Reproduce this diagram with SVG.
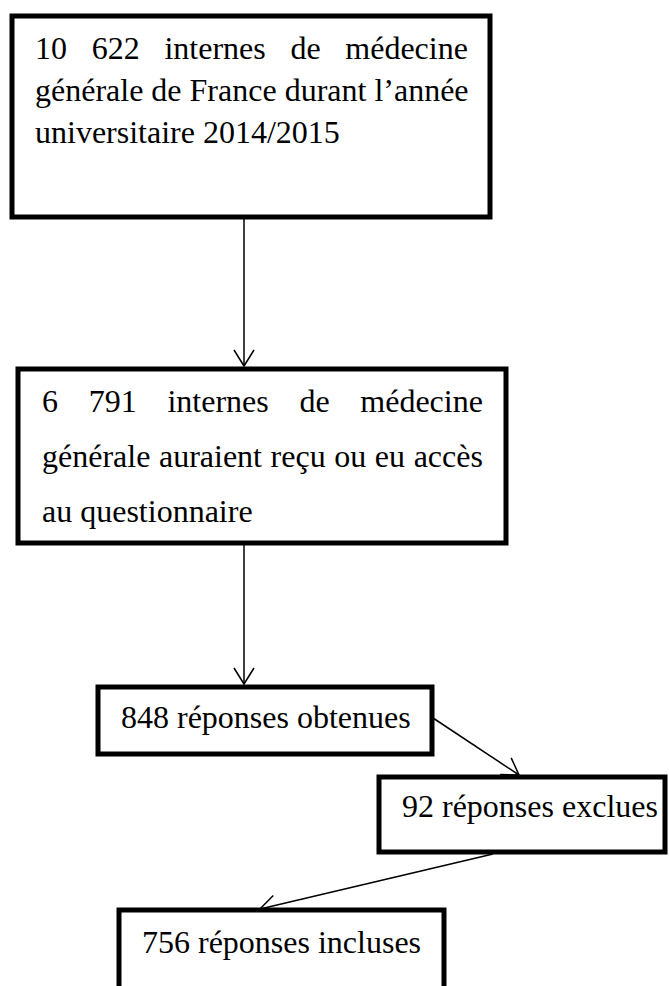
<svg xmlns="http://www.w3.org/2000/svg" width="669" height="986" viewBox="0 0 669 986">
  <style>
    .box { fill: #ffffff; stroke: #000000; stroke-width: 5; }
    .t { font-family: "Liberation Serif", "Times New Roman", serif; font-size: 32px; fill: #000000; }
    .c { fill: none; stroke: #000000; stroke-width: 1.5; }
  </style>
  <defs>
    <marker id="arr" markerUnits="userSpaceOnUse" markerWidth="24" markerHeight="24" viewBox="-18 -12 20 24" refX="0" refY="0" orient="auto">
      <path d="M-16,-10 L0,0 L-16,10" fill="none" stroke="#000000" stroke-width="1.5"/>
    </marker>
  </defs>
  <rect width="669" height="986" fill="#ffffff"/>
  <g id="connectors">
    <line class="c" x1="244" y1="219" x2="244" y2="366" marker-end="url(#arr)"/>
    <line class="c" x1="244" y1="545" x2="244" y2="684" marker-end="url(#arr)"/>
    <line class="c" x1="433" y1="718" x2="519" y2="775" marker-end="url(#arr)"/>
    <line class="c" x1="493" y1="854" x2="260" y2="909" marker-end="url(#arr)"/>
  </g>
  <g id="n1">
    <rect class="box" x="12" y="16" width="478" height="201"/>
    <text class="t" x="35" y="59" word-spacing="16.7">10 622 internes de médecine</text>
    <text class="t" x="35" y="101">générale de France durant l’année</text>
    <text class="t" x="35" y="143">universitaire 2014/2015</text>
  </g>
  <g id="n2">
    <rect class="box" x="18" y="369" width="488" height="174"/>
    <text class="t" x="42" y="412" word-spacing="22.7">6 791 internes de médecine</text>
    <text class="t" x="42" y="467" word-spacing="0.6">générale auraient reçu ou eu accès</text>
    <text class="t" x="42" y="522">au questionnaire</text>
  </g>
  <g id="n3">
    <rect class="box" x="98" y="687" width="334" height="67"/>
    <text class="t" x="121" y="728">848 réponses obtenues</text>
  </g>
  <g id="n4">
    <rect class="box" x="379" y="777" width="286" height="75"/>
    <text class="t" x="402" y="817">92 réponses exclues</text>
  </g>
  <g id="n5">
    <rect class="box" x="119" y="910" width="325" height="100"/>
    <text class="t" x="142" y="953">756 réponses incluses</text>
  </g>
</svg>
